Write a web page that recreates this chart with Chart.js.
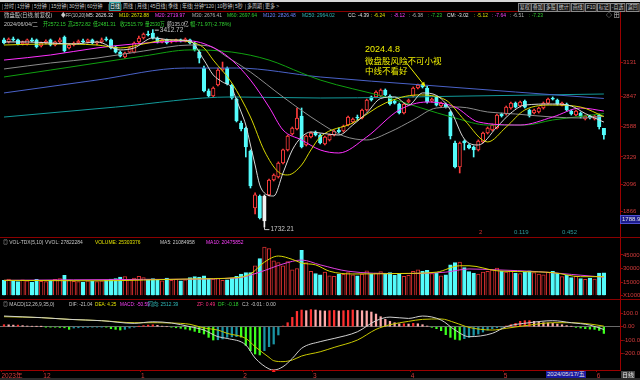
<!DOCTYPE html>
<html>
<head>
<meta charset="utf-8">
<title>微盘股 日线</title>
<script src="https://cdn.jsdelivr.net/npm/chart.js@4.4.1/dist/chart.umd.min.js"></script>
<style>
  body { margin: 0; background: #000; }
  #wrap { position: relative; width: 640px; height: 380px; overflow: hidden; background: #000;
    font-family: "Liberation Sans", "Noto Sans CJK SC", sans-serif; }
  canvas { position: absolute; left: 0; }
  .t { position: absolute; white-space: nowrap; font-size: 6px; line-height: 8px; transform-origin: 0 50%; }
  .tb { position: absolute; top: 3px; height: 7px; line-height: 7px; font-size: 5.5px; color: #c8c8c8;
    white-space: nowrap; transform-origin: 0 50%; }
  .tb.r { border: 1px solid #8a8a8a; background: #151515; padding: 0 1px; top: 2.5px; }
  .tb.on { color: #ffffff; background: #0e3a3a; outline: 1px solid #2aa0a0; }
  .sep { position: absolute; top: 4px; width: 1px; height: 6px; background: #3a3a3a; }
  .hl { position: absolute; left: 0; width: 640px; height: 1px; background: #8b0000; }
  .note { position: absolute; color: #f0f000; font-family: "Noto Sans CJK SC", sans-serif;
    font-size: 8.5px; line-height: 10px; white-space: nowrap; }
  .box { position: absolute; font-size: 6px; line-height: 7px; color: #e0e0e0; white-space: nowrap; padding: 0 1px; }
</style>
</head>
<body>
<div id="wrap">
  <div style="position:absolute;left:0;top:0;width:640px;height:2px;background:#d6d6d6"></div>
  <canvas id="kline" width="640" height="225" style="top:12px"></canvas>
  <canvas id="vol" width="640" height="62" style="top:237px"></canvas>
  <canvas id="macd" width="640" height="81" style="top:299px"></canvas>
  <div class="hl" style="top:11px"></div>
  <div class="hl" style="top:237px"></div>
  <div class="hl" style="top:299px"></div>
  <div style="position:absolute;left:0;top:378px;width:640px;height:2px;background:#2a2a2a"></div>
  <div class="note" style="left:365px;top:44px;font-family:'Liberation Sans',sans-serif;font-size:9px">2024.4.8</div>
  <div class="note" style="left:365px;top:55px">微盘股风险不可小视</div>
  <div class="note" style="left:365px;top:65px">中线不看好</div>
  <div class="box" style="left:620px;top:215px;width:17px;background:#1c1c8c;border:1px solid #5050d0">1788.9</div>
  <div class="box" style="left:546px;top:371px;background:#1a1aa0">2024/05/17/五</div>
  <div class="box" style="left:621px;top:371px;background:#444;font-family:'Noto Sans CJK SC',sans-serif">日线</div>
</div>
<script>
// 130 trading days, 2023-11-20 .. 2024-06-04
const openP = [3325,3308,3333,3325,3291,3291,3325,3325,3274,3299,
  3325,3282,3308,3350,3257,3282,3299,3316,3308,3325,
  3299,3308,3333,3325,3265,3222,3180,3222,3222,3308,
  3342,3376,3384,3342,3308,3325,3308,3316,3325,3316,
  3325,3299,3222,3086,2891,2848,2942,3069,3086,2942,
  2822,2618,2576,2380,1895,1997,1997,2006,2133,2159,
  2278,2389,2525,2567,2678,2431,2499,2542,2516,2440,
  2474,2516,2559,2550,2601,2627,2669,2661,2729,2840,
  2840,2848,2899,2848,2805,2780,2703,2797,2848,2916,
  2942,2916,2805,2840,2763,2780,2712,2448,2244,2465,
  2431,2414,2389,2457,2533,2559,2576,2695,2695,2746,
  2788,2763,2805,2729,2703,2712,2746,2788,2831,2814,
  2771,2780,2720,2686,2703,2652,2678,2652,2686,2572.15];
const highP = [3342,3342,3350,3333,3316,3333,3342,3333,3308,3325,
  3333,3316,3342,3359,3291,3308,3325,3333,3333,3333,
  3316,3342,3350,3333,3274,3231,3222,3265,3308,3359,
  3384,3401,3412.72,3350,3333,3333,3325,3333,3333,3342,
  3333,3308,3240,3103,2908,2925,3086,3137,3095,2950,
  2831,2635,2584,2389,2023,2006,2006,2142,2185,2287,
  2397,2516,2584,2746,2746,2516,2542,2550,2525,2508,
  2525,2559,2576,2601,2678,2661,2686,2737,2822,2848,
  2891,2908,2908,2857,2814,2788,2788,2822,2925,2950,
  2950,2933,2831,2848,2797,2788,2720,2465,2457,2474,
  2440,2423,2474,2542,2584,2610,2695,2703,2763,2797,
  2797,2805,2814,2737,2737,2754,2797,2831,2840,2822,
  2797,2788,2729,2729,2712,2686,2686,2686,2695,2572.82];
const lowP = [3291,3299,3316,3282,3282,3282,3308,3257,3265,3291,
  3274,3274,3299,3222,3248,3274,3291,3299,3299,3291,
  3282,3299,3316,3248,3214,3180,3171,3214,3214,3299,
  3333,3359,3333,3299,3299,3291,3299,3308,3308,3308,
  3291,3231,3129,2882,2840,2840,2933,3061,2942,2822,
  2627,2550,2329,2065,1844,1801,1732.21,1997,2125,2150,
  2269,2380,2516,2559,2406,2423,2491,2508,2440,2431,
  2465,2508,2533,2542,2593,2618,2644,2652,2720,2805,
  2831,2840,2848,2771,2780,2695,2695,2788,2840,2908,
  2916,2788,2797,2763,2754,2746,2482,2235,2193,2389,
  2397,2329,2380,2448,2525,2550,2567,2669,2686,2737,
  2746,2754,2746,2669,2695,2703,2737,2780,2814,2771,
  2763,2720,2686,2678,2661,2644,2652,2644,2567,2481.31];
const closeP = [3299,3333,3325,3291,3308,3325,3316,3265,3299,3316,
  3282,3308,3325,3231,3282,3299,3316,3308,3325,3299,
  3308,3325,3325,3257,3222,3188,3214,3257,3299,3342,
  3376,3367,3342,3308,3325,3299,3316,3325,3316,3333,
  3299,3240,3171,2891,2848,2916,3069,3086,2950,2831,
  2635,2567,2414,2082,2006,1810,1784,2133,2176,2278,
  2389,2508,2576,2661,2414,2508,2533,2516,2448,2499,
  2516,2550,2542,2593,2669,2652,2661,2729,2814,2814,
  2882,2899,2857,2780,2788,2703,2780,2814,2916,2942,
  2925,2797,2822,2771,2788,2754,2508,2244,2448,2448,
  2406,2389,2465,2533,2576,2601,2686,2678,2754,2788,
  2754,2797,2754,2678,2729,2746,2788,2822,2822,2780,
  2788,2729,2695,2720,2669,2678,2661,2678,2588,2515.79];
const markedDay = 56;

// moving averages: [day index, value]
const ma5 = [[0,3308],[5,3308],[10,3299],[15,3291],[20,3308],[25,3240],[28,3257],[32,3342],[36,3325],[40,3316],
  [43,3154],[45,3027],[47,2967],[49,2916],[50,2814],[51,2712],[52,2601],[53,2431],[54,2261],[55,2091],[56,2023],
  [58,1997],[60,2193],[62,2389],[64,2499],[66,2542],[68,2533],[72,2516],[75,2601],[78,2703],[81,2827],[84,2840],
  [87,2771],[90,2874],[93,2853],[96,2729],[99,2482],[102,2431],[106,2584],[109,2703],[112,2771],[118,2780],
  [122,2763],[125,2699],[129,2626]];
const ma10 = [[0,3282],[10,3291],[20,3282],[25,3257],[30,3291],[35,3325],[40,3308],[43,3257],[45,3154],[49,2959],
  [53,2669],[56,2380],[59,2201],[61,2176],[64,2261],[66,2389],[68,2499],[75,2618],[82,2788],[89,2857],[95,2814],
  [99,2644],[104,2457],[108,2584],[112,2729],[118,2771],[124,2754],[129,2673]];
const ma20 = [[0,3154],[10,3197],[20,3257],[28,3291],[40,3316],[46,3240],[49,3154],[53,2984],[57,2754],[60,2559],
  [64,2474],[68,2389],[72,2363],[78,2499],[85,2729],[91,2797],[97,2754],[102,2627],[111,2601],[118,2669],
  [124,2746],[129,2720]];
const ma30 = [[0,3078],[10,3129],[20,3171],[30,3231],[40,3282],[44,3274],[48,3180],[53,3052],[60,2840],[68,2618],
  [73,2508],[78,2474],[83,2542],[88,2644],[93,2746],[98,2754],[104,2712],[110,2695],[118,2669],[124,2661],[129,2676]];
const ma60 = [[0,3010],[10,3069],[20,3129],[30,3188],[40,3240],[49,3222],[57,3154],[64,3044],[68,2984],[82,2840],
  [97,2661],[104,2601],[112,2601],[118,2644],[129,2698]];
const ma120 = [[0,2874],[20,2984],[39,3086],[50,3086],[68,3010],[90,2942],[110,2882],[129,2827]];
const ma250 = [[0,2669],[24,2754],[49,2840],[68,2831],[100,2848],[129,2865]];

const volume = [17000,18500,16000,15500,17500,16500,15000,18000,16000,15500,
  17000,18000,19000,22500,17500,16000,15500,15000,16500,16000,
  15500,16500,17000,18500,19000,20500,21000,18000,19500,21500,
  20000,18500,19000,17500,16500,19500,17000,18000,16500,17500,
  20000,21000,20500,22000,19000,18500,19500,17000,17500,19500,
  21500,24000,25500,25500,33000,41000,53500,52000,38500,36500,
  33000,37500,28500,30000,50000,36500,27000,24500,23000,26000,
  22000,21500,24000,23500,25500,23000,22000,24000,27500,24000,
  25000,26500,24500,25500,22500,24000,21500,22500,27000,28500,
  27000,28000,24500,25000,22000,23000,34000,36500,37000,31000,
  26500,25000,24000,26000,27000,28500,30500,27000,26000,27500,
  25000,24500,26000,27500,25500,24000,23000,26000,27000,25000,
  21000,22500,20000,21500,19000,18000,19500,18500,25000,25303];
const volMa5 = [[0,17000],[20,16500],[40,18500],[50,20000],[53,24000],[56,37000],[59,43700],[62,40000],[64,36000],
  [67,34000],[70,27000],[75,24000],[85,24500],[93,26000],[98,33000],[100,33000],[106,27500],[112,26500],
  [118,25500],[124,21000],[129,21085]];
const volMa10 = [[0,17000],[30,18000],[50,19500],[55,26000],[60,35000],[64,39300],[68,34000],[74,27000],[85,24500],
  [95,26000],[100,29500],[106,28500],[115,26500],[122,23500],[129,20476]];

const macdHist = [15,14,12,12,8,5,3,2,1,-2,
  -3,-4,-6,-8,-20,-10,-8,-6,-5,-4,
  -3,-2,-3,-15,-20,-25,-20,-10,-4,2,
  8,12,14,10,4,0,-4,-8,-12,-18,
  -25,-35,-45,-55,-80,-100,-98,-92,-80,-76,
  -75,-78,-140,-180,-205,-212,-180,-150,-130,-62,
  5,30,70,115,125,120,128,125,120,118,
  120,122,118,120,122,125,122,120,118,110,
  95,75,55,40,30,22,22,20,25,22,
  15,5,-5,-15,-30,-60,-80,-95,-100,-90,
  -80,-65,-55,-40,-25,-15,-8,-3,5,15,
  25,40,45,45,40,35,30,28,25,20,
  15,8,3,-5,-10,-15,-18,-20,-28,-50.59];
const difPts = [[0,80],[8,68],[14,55],[21,45],[28,25],[32,37],[36,28],[40,0],[43,-25],[46,-75],[48,-88],[52,-137],
  [54,-235],[57,-317],[58,-325],[60,-300],[62,-238],[64,-162],[68,-112],[71,-88],[76,-38],[80,45],[83,72],[87,62],
  [90,80],[94,50],[97,-25],[100,-75],[105,-50],[108,0],[113,30],[118,45],[122,30],[126,12],[129,-21.04]];
const deaPts = [[0,75],[8,68],[14,55],[21,45],[28,30],[33,30],[36,28],[40,18],[43,-10],[46,-25],[48,-50],[52,-88],
  [54,-150],[57,-230],[58,-255],[60,-262],[62,-250],[64,-220],[68,-188],[71,-155],[76,-100],[80,-20],[83,15],[87,40],
  [90,55],[94,58],[97,30],[100,-5],[105,-25],[108,-12],[113,12],[118,30],[122,30],[126,20],[129,4.25]];

const priceTicks = [3131, 2847, 2588, 2329, 2096, 1866];
const volTicks = [45000, 30000, 15000, 0];
const macdTicks = [100, 0, -100, -200];
const monthTicks = [0, 9, 30, 52, 67, 88, 108, 128];
const monthLabels = ['2023年', '12', '1', '2', '3', '4', '5', '6'];

const FONT = '"Liberation Sans", "Noto Sans CJK SC", sans-serif';
const AXIS = '#9a0000';
const LABEL = '#d03a3a';
const CYAN = '#54fcfc';
const RED = '#ff3c3c';
const X_MIN = -0.86, X_MAX = 132.47;

Chart.defaults.font.family = FONT;
Chart.defaults.font.size = 6;

const upDay = closeP.map((c, i) => c >= openP[i]);
const bodyFill = upDay.map((u, i) => i === markedDay ? '#f2f2f2' : (u ? '#000000' : CYAN));
const bodyLine = upDay.map((u, i) => i === markedDay ? '#f2f2f2' : (u ? RED : CYAN));
const volUp = upDay.map((u, i) => u || i === markedDay);

function pts(list) {
  return list.map(([x, y]) => ({x: x, y: y}));
}
function line(list, color) {
  return {type: 'line', data: pts(list), borderColor: color, borderWidth: 1, pointRadius: 0,
    cubicInterpolationMode: 'monotone', order: 1};
}
function yAxis(min, max, ticks, fmt, zeroLine) {
  return {
    position: 'right', min: min, max: max,
    afterBuildTicks: s => { s.ticks = ticks.map(v => ({value: v})); },
    afterFit: s => { s.width = 20; s.paddingTop = 0; s.paddingBottom = 0; },
    grid: {drawOnChartArea: !!zeroLine, tickLength: 3, tickColor: AXIS,
      color: c => (zeroLine && c.tick && c.tick.value === 0) ? '#6a6a6a' : 'transparent'},
    border: {color: AXIS},
    ticks: {color: LABEL, padding: 0, font: {size: 6}, callback: fmt}
  };
}
function hiddenX() {
  return {type: 'linear', min: X_MIN, max: X_MAX, offset: false, display: false};
}
function baseOptions(scales) {
  return {
    responsive: false, animation: false, events: [],
    layout: {padding: 0},
    plugins: {legend: {display: false}, tooltip: {enabled: false}},
    scales: scales
  };
}

// high / low labels and the arrow of the note
const notePlugin = {
  id: 'notes',
  afterDatasetsDraw(chart) {
    const ctx = chart.ctx, x = chart.scales.x, y = chart.scales.y;
    ctx.save();
    ctx.strokeStyle = '#c8c8c8';
    ctx.fillStyle = '#c8c8c8';
    ctx.lineWidth = 1;
    ctx.font = '6.5px ' + FONT;
    ctx.textBaseline = 'middle';
    const hi = highP.indexOf(Math.max(...highP));
    let px = x.getPixelForValue(hi), py = y.getPixelForValue(highP[hi]);
    ctx.beginPath(); ctx.moveTo(px + 2, py + 0.5); ctx.lineTo(px + 6, py + 0.5); ctx.stroke();
    ctx.fillText(highP[hi].toFixed(2), px + 7, py + 1);
    const lo = lowP.indexOf(Math.min(...lowP));
    px = x.getPixelForValue(lo); py = y.getPixelForValue(lowP[lo]);
    ctx.beginPath(); ctx.moveTo(Math.round(px) + 0.5, py); ctx.lineTo(Math.round(px) + 0.5, py + 2.5);
    ctx.lineTo(px + 5, py + 2.5); ctx.stroke();
    ctx.fillText(lowP[lo].toFixed(2), px + 6, py + 2.5);

    // arrow to the 2024-04-08 candle
    const day = 91;
    const ex = x.getPixelForValue(day - 0.4), ey = y.getPixelForValue(highP[day]) + 0.5;
    const sx = 405, sy = 49;
    ctx.strokeStyle = '#f0f000';
    ctx.fillStyle = '#f0f000';
    ctx.beginPath(); ctx.moveTo(sx, sy); ctx.lineTo(ex, ey); ctx.stroke();
    const a = Math.atan2(ey - sy, ex - sx);
    ctx.beginPath();
    ctx.moveTo(ex, ey);
    ctx.lineTo(ex - 5 * Math.cos(a - 0.45), ey - 5 * Math.sin(a - 0.45));
    ctx.lineTo(ex - 5 * Math.cos(a + 0.45), ey - 5 * Math.sin(a + 0.45));
    ctx.closePath(); ctx.fill();
    ctx.restore();
  }
};

new Chart(document.getElementById('kline'), {
  data: {
    datasets: [
      line(ma5, '#d8d8d8'), line(ma10, '#d8d800'), line(ma20, '#ff30ff'), line(ma30, '#8c8c8c'),
      line(ma60, '#10a010'), line(ma120, '#4a62c8'), line(ma250, '#129a9a'),
      {type: 'bar', data: openP.map((o, i) => ({x: i, y: [o, closeP[i]]})),
        backgroundColor: bodyFill, borderColor: bodyLine, borderWidth: 1, borderSkipped: false,
        barThickness: 3.5, minBarLength: 1, grouped: false, order: 2},
      {type: 'bar', data: lowP.map((l, i) => ({x: i, y: [l, highP[i]]})),
        backgroundColor: bodyLine, borderWidth: 0, barThickness: 1, grouped: false, order: 3}
    ]
  },
  options: baseOptions({x: hiddenX(), y: yAxis(1648.1, 3562.9, priceTicks, v => String(v))}),
  plugins: [notePlugin]
});

new Chart(document.getElementById('vol'), {
  data: {
    datasets: [
      line(volMa5, '#d8d800'), line(volMa10, '#e040e0'),
      {type: 'bar', data: volume.map((v, i) => ({x: i, y: v})),
        backgroundColor: volUp.map(u => u ? '#000000' : CYAN),
        borderColor: volUp.map(u => u ? '#d83030' : CYAN),
        borderWidth: 1, barThickness: 3.6, grouped: false, order: 2}
    ]
  },
  options: baseOptions({x: hiddenX(), y: yAxis(-3517, 64621, volTicks, v => v === 0 ? 'X1000' : String(v))})
});

const histColor = macdHist.map((h, i) => {
  const prev = i ? macdHist[i - 1] : h;
  if (h >= 0) return h >= prev ? '#ff3030' : '#ffaaaa';
  return h <= prev ? '#3cff1e' : '#1a94a4';
});

const bottomMark = {
  id: 'bottomMark',
  afterDatasetsDraw(chart) {
    const ctx = chart.ctx, x = chart.scales.x, y = chart.scales.y;
    let low = difPts[0];
    difPts.forEach(p => { if (p[1] < low[1]) low = p; });
    const px = x.getPixelForValue(low[0]), py = y.getPixelForValue(low[1]);
    ctx.save();
    ctx.fillStyle = '#ff2020';
    ctx.beginPath(); ctx.moveTo(px, py - 1); ctx.lineTo(px - 2, py + 2); ctx.lineTo(px + 2, py + 2);
    ctx.closePath(); ctx.fill();
    ctx.restore();
  }
};

new Chart(document.getElementById('macd'), {
  data: {
    datasets: [
      line(difPts, '#d0d0d0'), line(deaPts, '#c8c800'),
      {type: 'bar', data: macdHist.map((h, i) => ({x: i, y: h})), backgroundColor: histColor,
        borderWidth: 0, barThickness: 1.6, grouped: false, order: 2}
    ]
  },
  options: baseOptions({
    x: {type: 'linear', min: X_MIN, max: X_MAX, position: 'bottom', offset: false,
      afterBuildTicks: s => { s.ticks = monthTicks.map(i => ({value: i - 0.55})); },
      afterFit: s => { s.height = 10; s.paddingLeft = 0; s.paddingRight = 0; },
      grid: {drawOnChartArea: false, offset: false, tickLength: 2, color: AXIS},
      border: {color: AXIS},
      ticks: {align: 'start', padding: 0, maxRotation: 0, autoSkip: false, color: LABEL,
        font: {size: 6.5}, callback: (v, i) => monthLabels[i]}},
    y: yAxis(-324.8, 207.8, macdTicks, v => v === 0 ? '0.00' : v.toFixed(1), true)
  }),
  plugins: [bottomMark]
});

// header texts
const wrap = document.getElementById('wrap');
function put(text, x, y, color, cls, sx) {
  const s = document.createElement('span');
  s.className = cls || 't';
  s.textContent = text;
  s.style.left = x + 'px';
  s.style.top = y + 'px';
  if (color) s.style.color = color;
  s.style.transform = 'scaleX(' + (sx || 0.82) + ')';
  wrap.appendChild(s);
  return s;
}
const toolLeft = [['分时', 4], ['1分钟', 17], ['5分钟', 34], ['15分钟', 51], ['30分钟', 69], ['60分钟', 87],
  ['日线', 110], ['周线', 123], ['月线', 137], ['45日线', 150], ['季线', 168], ['年线', 182], ['分钟*120', 194],
  ['10秒钟', 217], ['5秒', 235], ['多周期', 247], ['更多 >', 265]];
const toolRight = [['复权', 518], ['叠加', 531], ['多股', 544], ['统计', 557], ['画线', 571], ['F10', 585],
  ['标记', 597], ['-自选', 610], ['返回', 626]];
toolLeft.forEach(([t, x]) => {
  put(t, x, 3, null, t === '日线' ? 'tb on' : 'tb', 0.9);
  const d = document.createElement('div');
  d.className = 'sep';
  d.style.left = (x - 2) + 'px';
  wrap.appendChild(d);
});
toolRight.forEach(([t, x]) => put(t, x, 3, null, 'tb r', 0.9));

const GRAY = '#c8c8c8', WHITE = '#e4e4e4', YEL = '#e0e000', MAG = '#ff40ff', GRN = '#30d030', TEAL = '#30b8b8';
const head1 = [['微盘股(日线,前复权)', 4, GRAY, 0.9], ['◆FF(10,20)', 61, GRAY, 0.76], ['M5: 2626.32', 86, WHITE],
  ['M10: 2672.88', 119, YEL], ['M20: 2719.97', 155, MAG], ['M30: 2676.41', 192, '#b4b4b4'],
  ['M60: 2697.64', 227, GRN], ['M120: 2826.48', 263, '#6a82ff'], ['M250: 2964.02', 302, TEAL],
  ['CC: -4.39', 348, WHITE], [': -6.24', 371, YEL], [': -8.12', 391, MAG], [': -6.38', 409, '#b4b4b4'],
  [': -7.23', 428, GRN], ['CM: -3.02', 447, WHITE], [': -5.12', 474, YEL], [': -7.64', 492, MAG],
  [': -6.51', 510, '#b4b4b4'], [': -7.23', 529, GRN], ['◇ 田', 606, GRAY, 1]];
const head2 = [['2024/06/04/二', 4, GRAY, 0.9], ['开2572.15', 43, GRN], ['高2572.82', 68, GRN], ['低2481.31', 93, GRN],
  ['收2515.79', 120, GRN], ['量2530万', 145, GRN, 0.78], ['额135.0亿', 167, GRAY, 0.8], ['幅-71.97(-2.78%)', 190, GRN, 0.9]];
const volHead = [['◎ VOL-TDX(5,10)', 3, GRAY], ['VVOL: 27822284', 45, GRAY], ['VOLUME: 25303376', 95, YEL],
  ['MA5: 21084958', 160, GRAY], ['MA10: 20475852', 206, MAG]];
const macdHead = [['◎ MACD(12,26,9,35,0)', 3, GRAY], ['DIF: -21.04', 69, GRAY, 0.78], ['DEA: 4.25', 95, YEL, 0.78],
  ['MACD: -50.59', 120, MAG, 0.78], ['同向: 2512.39', 148, TEAL], ['ZF: 0.49', 197, '#ff3080'],
  ['DF: -0.18', 218, GRN], ['CJ: -0.01 : 0.00', 242, GRAY]];
const sideVals = [['2', 479, '#d03030'], ['0.119', 514, '#2a9a9a'], ['0.452', 562, '#2a9a9a']];
head1.forEach(([t, x, c, s]) => put(t, x, 11, c, 't', s));
head2.forEach(([t, x, c, s]) => put(t, x, 19.5, c, 't', s));
volHead.forEach(([t, x, c]) => put(t, x, 238, c));
macdHead.forEach(([t, x, c, s]) => put(t, x, 299.5, c, 't', s));
sideVals.forEach(([t, x, c]) => put(t, x, 227.5, c, 't', 1));
</script>
</body>
</html>
